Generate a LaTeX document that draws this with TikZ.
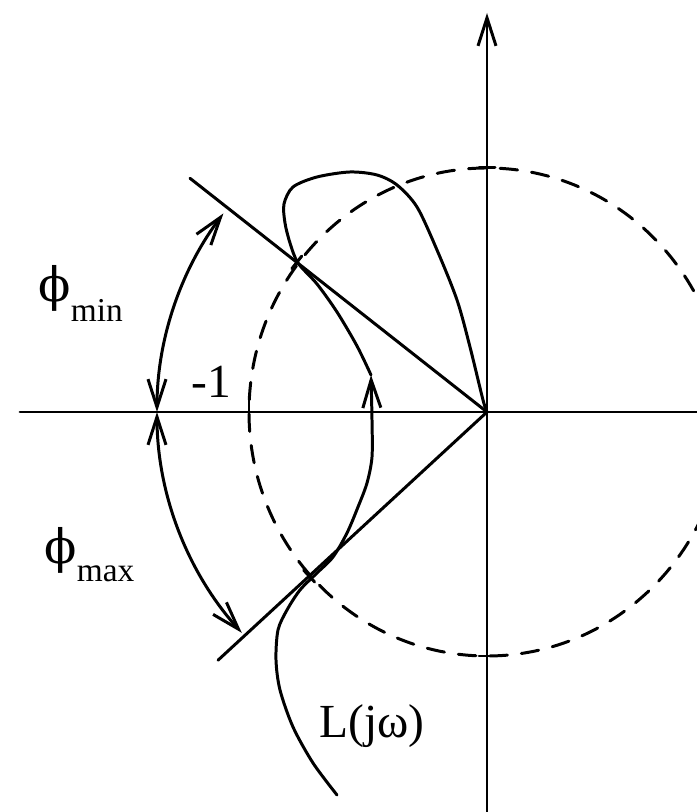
\documentclass[tikz,border=0pt]{standalone}
\usepackage{fontspec}
\setmainfont{Liberation Serif}
\newfontfamily\greekfont{DejaVu Serif}
\usepackage{tikz}
\usetikzlibrary{arrows.meta}

\begin{document}
\begin{tikzpicture}[>={Straight Barb[length=2.8mm,width=1.8mm]},line width=0.85pt,line cap=round,font=\fontsize{13.5}{16}\selectfont]
\useasboundingbox (-4.87,-4.00) rectangle (2.10,4.12);
\begin{scope}
\clip (-4.87,-4.00) rectangle (2.10,4.12);
\draw[dash pattern=on 5pt off 4pt] (0,0) ellipse[x radius=2.38,y radius=2.44];
\draw (-4.67,0) -- (2.20,0);
\end{scope}
\draw[->] (0,-4.10) -- (0,3.99);
\draw (-2.38,0) -- (-2.38,0.15);
\draw (-0.08,2.44) -- (0.08,2.44);
\draw (-0.08,-2.44) -- (0.08,-2.44);
\draw (0,0) -- (141.8:3.78);
\draw (0,0) -- (222.7:3.66);
\draw[rotate=141.8] (2.42,-0.08) -- (2.42,0.08);
\draw[rotate=222.7] (2.42,-0.08) -- (2.42,0.08);
\draw[<->] (143:3.30) arc (143:180:3.30);
\draw[<->] (180:3.30) arc (180:222:3.30);
\draw plot[smooth] coordinates {(0,0) (-0.04,0.12) (-0.17,0.65) (-0.30,1.12) (-0.50,1.62) (-0.70,2.05) (-0.90,2.27) (-1.10,2.37) (-1.37,2.40) (-1.70,2.35) (-1.94,2.25) (-2.03,2.08) (-2.02,1.89) (-1.97,1.69) (-1.89,1.49) (-1.70,1.28) (-1.50,1.00) (-1.30,0.66) (-1.16,0.37)};
\draw[->] plot[smooth] coordinates {(-1.50,-3.83) (-1.74,-3.51) (-1.94,-3.15) (-2.07,-2.78) (-2.11,-2.48) (-2.09,-2.18) (-2.00,-1.98) (-1.87,-1.78) (-1.70,-1.61) (-1.54,-1.45) (-1.40,-1.21) (-1.29,-0.95) (-1.20,-0.71) (-1.15,-0.45) (-1.15,-0.08) (-1.16,0.37)};
\node[anchor=base west,inner sep=0] (phimin) at (-4.50,1.10) {{\greekfont ϕ}\raisebox{-5.5pt}{\fontsize{9.5}{11}\selectfont min}};
\node[anchor=base west,inner sep=0] (phimax) at (-4.44,-1.52) {{\greekfont ϕ}\raisebox{-5pt}{\fontsize{9.5}{11}\selectfont max}};
\node[anchor=base,inner sep=0] (minusone) at (-2.76,0.14) {-1};
\node[anchor=base west,inner sep=0] (ljw) at (-1.69,-3.25) {L(jω)};
\end{tikzpicture}
\end{document}
